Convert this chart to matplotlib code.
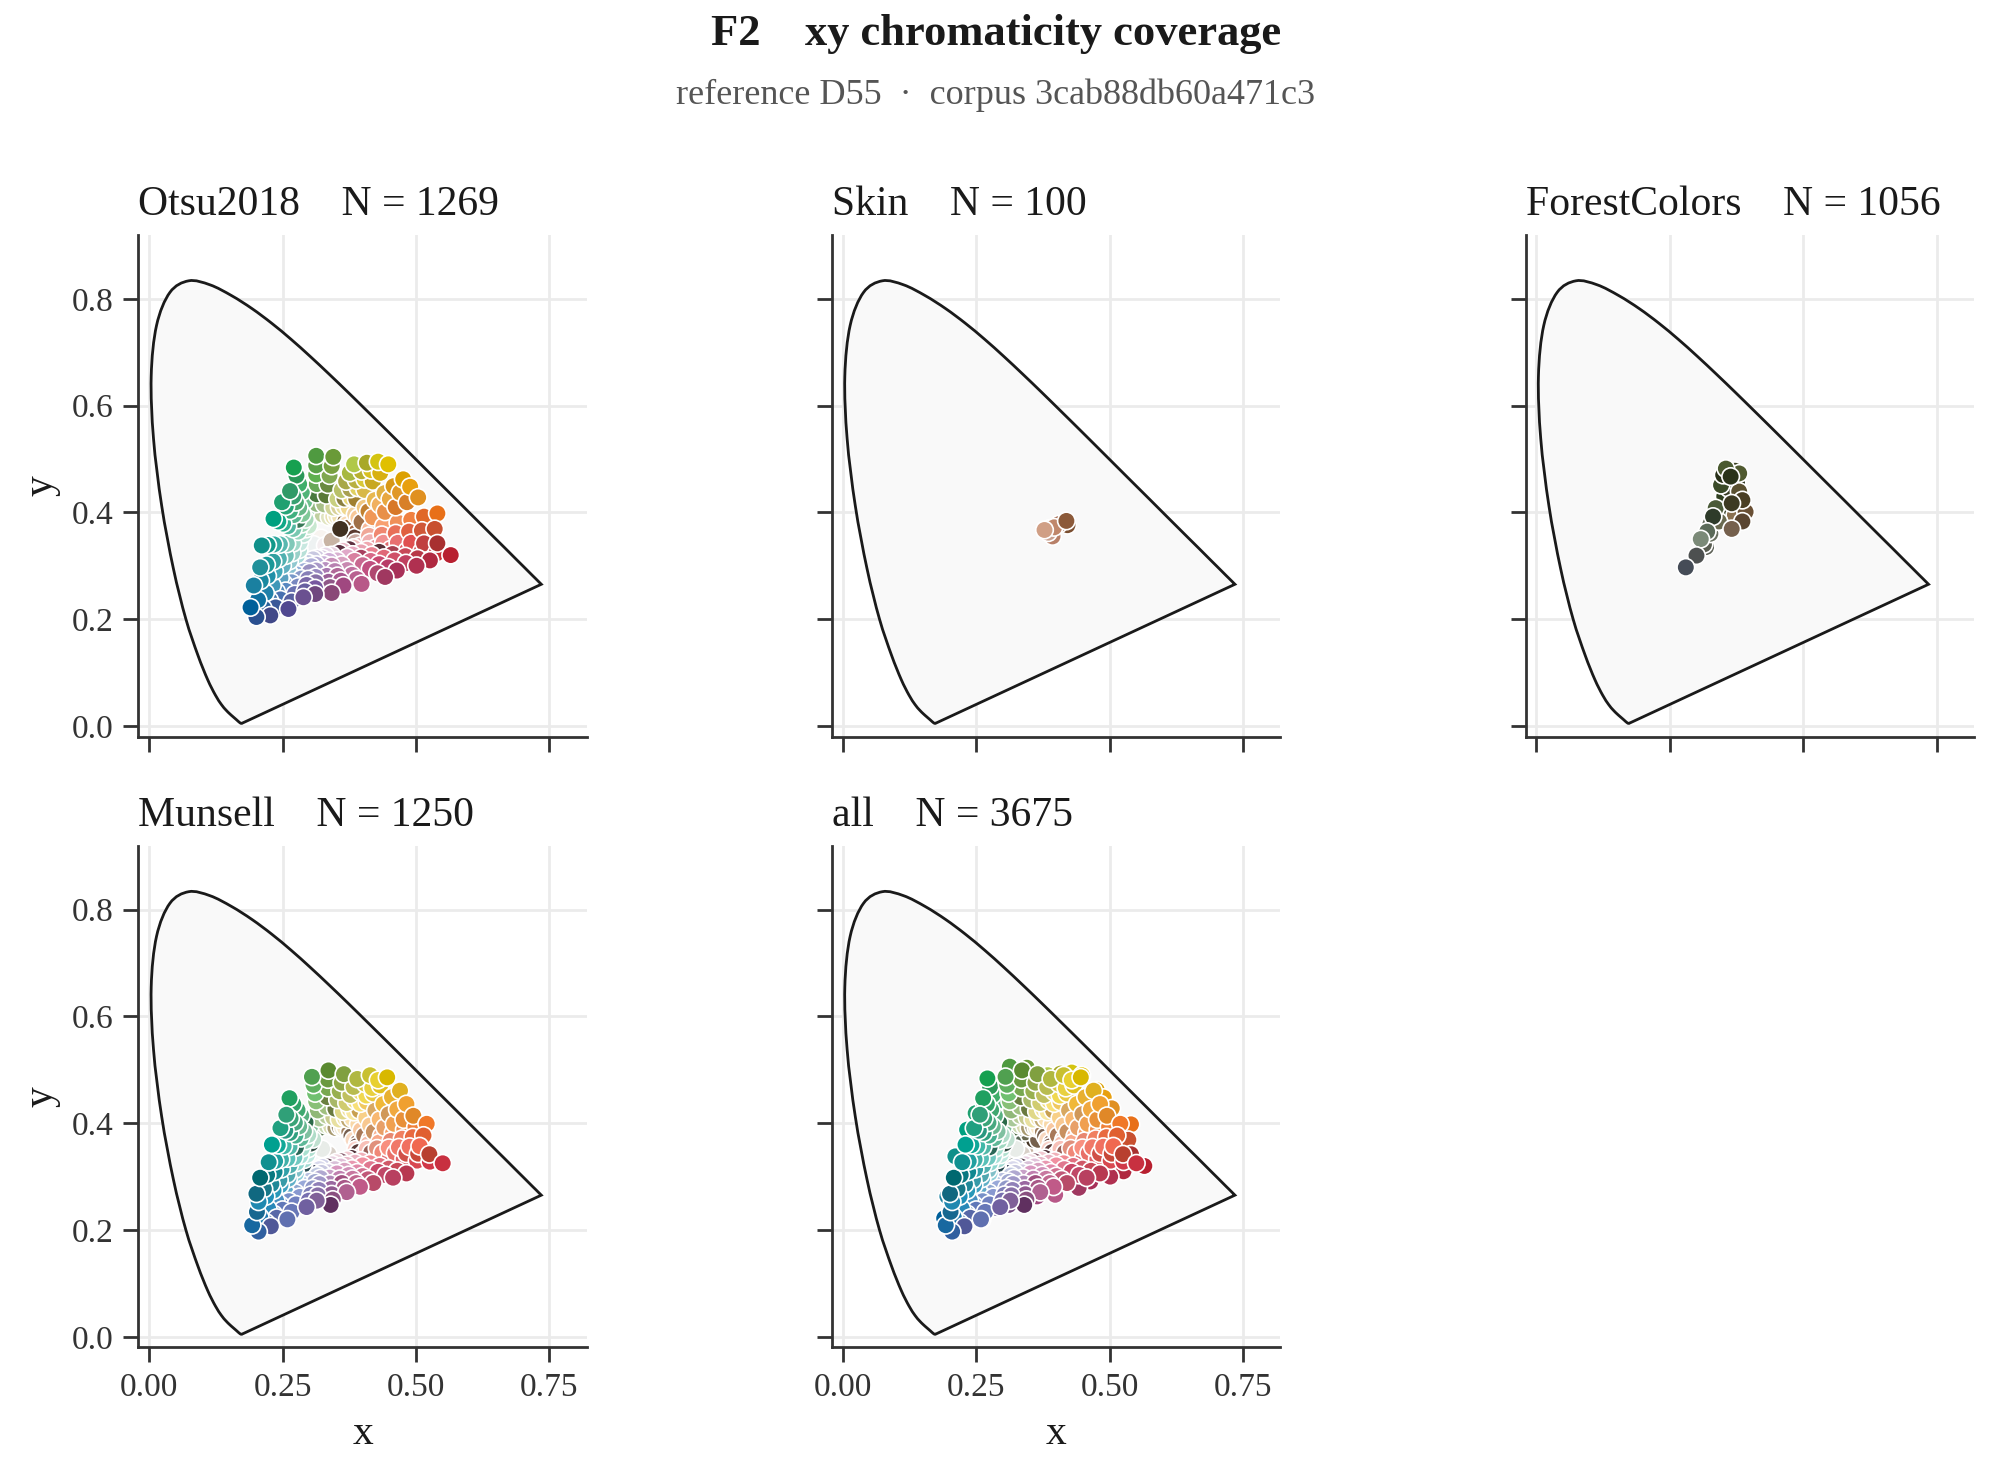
import matplotlib.pyplot as plt
from matplotlib.path import Path
from matplotlib.patches import PathPatch

plt.rcParams['font.family'] = 'serif'
plt.rcParams['font.serif'] = ['Liberation Serif', 'DejaVu Serif']

# CIE 1931 2-degree spectral locus, 380-700 nm in 5 nm steps
locus_x = [0.1741, 0.1740, 0.1738, 0.1736, 0.1733, 0.1730, 0.1726, 0.1721, 0.1714, 0.1703,
           0.1689, 0.1669, 0.1644, 0.1611, 0.1566, 0.1510, 0.1440, 0.1355, 0.1241, 0.1096,
           0.0913, 0.0687, 0.0454, 0.0235, 0.0082, 0.0039, 0.0139, 0.0389, 0.0743, 0.1142,
           0.1547, 0.1929, 0.2296, 0.2658, 0.3016, 0.3373, 0.3731, 0.4087, 0.4441, 0.4788,
           0.5125, 0.5448, 0.5752, 0.6029, 0.6270, 0.6482, 0.6658, 0.6801, 0.6915, 0.7006,
           0.7079, 0.7140, 0.7190, 0.7230, 0.7260, 0.7283, 0.7300, 0.7311, 0.7320, 0.7327,
           0.7334, 0.7340, 0.7344, 0.7346, 0.7347]
locus_y = [0.0050, 0.0050, 0.0049, 0.0049, 0.0048, 0.0048, 0.0048, 0.0048, 0.0051, 0.0058,
           0.0069, 0.0086, 0.0109, 0.0138, 0.0177, 0.0227, 0.0297, 0.0399, 0.0578, 0.0868,
           0.1327, 0.2007, 0.2950, 0.4127, 0.5384, 0.6548, 0.7502, 0.8120, 0.8338, 0.8262,
           0.8059, 0.7816, 0.7543, 0.7243, 0.6923, 0.6589, 0.6245, 0.5896, 0.5547, 0.5202,
           0.4866, 0.4544, 0.4242, 0.3965, 0.3725, 0.3514, 0.3340, 0.3197, 0.3083, 0.2993,
           0.2920, 0.2859, 0.2809, 0.2770, 0.2740, 0.2717, 0.2700, 0.2689, 0.2680, 0.2673,
           0.2666, 0.2660, 0.2656, 0.2654, 0.2653]

# (x, y, sRGB colour), inner points first
otsu_pts = [
    (0.315, 0.345, '#f2f2f0'), (0.322, 0.352, '#f8f4f0'), (0.308, 0.340, '#eef2f2'),
    (0.330, 0.338, '#f4eef0'), (0.342, 0.347, '#c8b4a4'),
    (0.301, 0.389, '#b0dcc0'), (0.314, 0.397, '#a8c898'), (0.325, 0.396, '#c0d0a0'),
    (0.337, 0.391, '#e0e4c0'), (0.345, 0.392, '#e8e0b0'), (0.351, 0.393, '#f0e8c0'),
    (0.358, 0.391, '#f0e0b0'), (0.367, 0.382, '#8a6a40'), (0.371, 0.378, '#f8d8b0'),
    (0.375, 0.372, '#7a5030'), (0.387, 0.362, '#a86a48'), (0.385, 0.353, '#5a3a30'),
    (0.387, 0.344, '#c8a8a0'), (0.395, 0.337, '#e8b0b0'), (0.383, 0.334, '#f0c0c0'),
    (0.375, 0.331, '#603040'), (0.363, 0.328, '#e8b8c8'), (0.356, 0.324, '#5a3040'),
    (0.342, 0.320, '#e8d0e0'), (0.331, 0.319, '#e8d8e8'), (0.324, 0.314, '#d8c8e0'),
    (0.314, 0.314, '#d0c8e0'), (0.307, 0.312, '#c8c8e0'), (0.298, 0.305, '#c0c8e0'),
    (0.287, 0.301, '#b8c8e0'), (0.279, 0.300, '#b0c8d8'), (0.275, 0.306, '#a8d0d8'),
    (0.277, 0.319, '#a8d8d8'), (0.281, 0.330, '#b8e0d8'), (0.282, 0.343, '#c8e8e0'),
    (0.289, 0.359, '#c0e4d8'), (0.294, 0.369, '#c0e0cc'), (0.299, 0.375, '#c8e8d0'),
    (0.358, 0.369, '#403020'), (0.389, 0.316, '#5a3038'),
    (0.296, 0.406, '#98d0ac'), (0.314, 0.416, '#90b880'), (0.328, 0.415, '#a8c088'),
    (0.345, 0.409, '#d0d498'), (0.356, 0.410, '#d8d098'), (0.365, 0.411, '#e8e0a0'),
    (0.374, 0.409, '#f0d890'), (0.386, 0.396, '#f0d0a0'), (0.392, 0.390, '#f8c898'),
    (0.398, 0.382, '#a07048'), (0.414, 0.368, '#f8b898'), (0.412, 0.356, '#f0a898'),
    (0.414, 0.344, '#f0b0b0'), (0.425, 0.334, '#e89098'), (0.408, 0.330, '#f0a8b0'),
    (0.397, 0.325, '#e8a0b0'), (0.381, 0.321, '#e8a8c0'), (0.371, 0.316, '#e0a8c8'),
    (0.352, 0.310, '#d8b0d0'), (0.337, 0.309, '#d0b0d8'), (0.327, 0.303, '#c8b0d8'),
    (0.313, 0.302, '#b8b0d8'), (0.304, 0.299, '#b0b0d8'), (0.291, 0.290, '#a0b0d8'),
    (0.276, 0.284, '#90b0d8'), (0.265, 0.283, '#88b8d0'), (0.260, 0.291, '#88c0d0'),
    (0.263, 0.309, '#90c8d0'), (0.268, 0.324, '#98d0c8'), (0.269, 0.342, '#a0d8c8'),
    (0.279, 0.364, '#98d8c0'), (0.286, 0.378, '#a0d8b8'), (0.293, 0.387, '#a8d8b8'),
    (0.291, 0.421, '#6cc08c'), (0.314, 0.434, '#4a7a40'), (0.332, 0.432, '#5a7a38'),
    (0.353, 0.425, '#c8d080'), (0.366, 0.426, '#8a8040'), (0.378, 0.428, '#e8d878'),
    (0.388, 0.425, '#a08030'), (0.404, 0.409, '#f0c880'), (0.411, 0.402, '#c08030'),
    (0.419, 0.391, '#f09858'), (0.439, 0.374, '#f8a070'), (0.436, 0.358, '#f08870'),
    (0.439, 0.343, '#f09090'), (0.453, 0.331, '#e06a70'), (0.431, 0.326, '#5a3038'),
    (0.417, 0.320, '#e88090'), (0.397, 0.315, '#a84060'), (0.385, 0.309, '#d880a0'),
    (0.361, 0.302, '#d8a0c0'), (0.342, 0.300, '#c890b8'), (0.330, 0.292, '#b890c0'),
    (0.313, 0.291, '#a898c8'), (0.301, 0.288, '#9a90c0'), (0.285, 0.276, '#8898c8'),
    (0.267, 0.269, '#7898c8'), (0.252, 0.267, '#6898c0'), (0.246, 0.277, '#5aa0c0'),
    (0.250, 0.300, '#60b0c0'), (0.256, 0.319, '#70c0b8'), (0.258, 0.341, '#80c8b8'),
    (0.270, 0.369, '#78c8b0'), (0.279, 0.386, '#3a7a58'), (0.287, 0.397, '#80c898'),
    (0.286, 0.438, '#50b478'), (0.314, 0.453, '#68a858'), (0.335, 0.452, '#6a8a40'),
    (0.361, 0.442, '#b8c068'), (0.377, 0.444, '#a8a050'), (0.391, 0.446, '#e0d060'),
    (0.404, 0.442, '#d8b848'), (0.423, 0.423, '#e8b850'), (0.432, 0.414, '#f0b060'),
    (0.442, 0.401, '#e89048'), (0.466, 0.381, '#f09058'), (0.462, 0.361, '#e87058'),
    (0.466, 0.343, '#e87070'), (0.483, 0.328, '#e05860'), (0.456, 0.322, '#a84050'),
    (0.440, 0.315, '#e06878'), (0.415, 0.309, '#d86888'), (0.400, 0.301, '#c86890'),
    (0.371, 0.292, '#c888b0'), (0.348, 0.290, '#b880b0'), (0.333, 0.281, '#a878b0'),
    (0.312, 0.279, '#9888c0'), (0.298, 0.275, '#8880b8'), (0.279, 0.261, '#7888c0'),
    (0.256, 0.253, '#5888c0'), (0.239, 0.251, '#5088b8'), (0.231, 0.263, '#4098b8'),
    (0.235, 0.290, '#40a8b8'), (0.243, 0.313, '#50b0b0'), (0.245, 0.340, '#58b8b0'),
    (0.260, 0.374, '#50b8a0'), (0.271, 0.395, '#58b890'), (0.281, 0.409, '#68b888'),
    (0.281, 0.453, '#3fae6a'), (0.313, 0.471, '#5fb050'), (0.338, 0.469, '#80a850'),
    (0.369, 0.458, '#a8a848'), (0.388, 0.460, '#b8b040'), (0.404, 0.462, '#d8c838'),
    (0.419, 0.458, '#c8a820'), (0.441, 0.436, '#e0b040'), (0.451, 0.425, '#e8a840'),
    (0.462, 0.410, '#d87828'), (0.491, 0.386, '#f08040'), (0.487, 0.364, '#e06040'),
    (0.491, 0.343, '#e05050'), (0.510, 0.326, '#d04048'), (0.480, 0.318, '#c84858'),
    (0.460, 0.310, '#d05068'), (0.431, 0.303, '#c84870'), (0.414, 0.294, '#c05080'),
    (0.380, 0.283, '#c070a0'), (0.353, 0.281, '#b06898'), (0.336, 0.270, '#9a6098'),
    (0.312, 0.269, '#8870a8'), (0.295, 0.264, '#7a68a8'), (0.273, 0.247, '#6870b0'),
    (0.246, 0.237, '#4870b0'), (0.226, 0.235, '#3a70a8'), (0.218, 0.249, '#2080a8'),
    (0.222, 0.281, '#2090a8'), (0.232, 0.308, '#30a0a0'), (0.234, 0.340, '#30a8a0'),
    (0.251, 0.379, '#30b090'), (0.264, 0.403, '#40b080'), (0.275, 0.419, '#48a870'),
    (0.276, 0.469, '#2a9858'), (0.313, 0.488, '#5aa048'), (0.342, 0.487, '#78a040'),
    (0.376, 0.474, '#a8b840'), (0.398, 0.477, '#b8b030'), (0.416, 0.479, '#d8c020'),
    (0.433, 0.474, '#d8b010'), (0.458, 0.449, '#d89818'), (0.470, 0.437, '#e09828'),
    (0.483, 0.419, '#d88028'), (0.515, 0.392, '#e06828'), (0.511, 0.366, '#d05838'),
    (0.515, 0.342, '#c04040'), (0.538, 0.323, '#c83038'), (0.503, 0.314, '#b83848'),
    (0.481, 0.305, '#c04060'), (0.448, 0.297, '#b83c68'), (0.428, 0.286, '#b04870'),
    (0.389, 0.275, '#b86090'), (0.359, 0.272, '#a85890'), (0.339, 0.260, '#905888'),
    (0.311, 0.258, '#7858a0'), (0.292, 0.252, '#6860a0'), (0.267, 0.233, '#5860a0'),
    (0.237, 0.222, '#3a5898'), (0.214, 0.220, '#2a609a'), (0.204, 0.236, '#10709f'),
    (0.209, 0.272, '#1a88a0'), (0.220, 0.302, '#1a9898'), (0.222, 0.339, '#10988a'),
    (0.242, 0.383, '#10a888'), (0.256, 0.411, '#28a478'), (0.270, 0.430, '#38a070'),
    (0.271, 0.484, '#16a050'), (0.313, 0.506, '#4f9a40'), (0.345, 0.504, '#6a9a38'),
    (0.384, 0.490, '#b0c848'), (0.408, 0.493, '#a8a828'), (0.429, 0.495, '#d4c410'),
    (0.448, 0.490, '#e0c000'), (0.476, 0.462, '#dca000'), (0.489, 0.448, '#e8a010'),
    (0.504, 0.428, '#e09020'), (0.540, 0.398, '#e87018'), (0.535, 0.369, '#c85030'),
    (0.540, 0.342, '#a83030'), (0.565, 0.320, '#b82030'), (0.526, 0.310, '#b02840'),
    (0.501, 0.300, '#b03050'), (0.464, 0.291, '#a83058'), (0.442, 0.279, '#a03860'),
    (0.398, 0.266, '#b85888'), (0.364, 0.263, '#a04880'), (0.342, 0.249, '#8a4878'),
    (0.311, 0.247, '#704880'), (0.289, 0.241, '#6a5090'), (0.261, 0.219, '#504890'),
    (0.227, 0.207, '#404888'), (0.201, 0.204, '#2a5090'), (0.190, 0.222, '#00609a'),
    (0.196, 0.263, '#1a80a0'), (0.208, 0.297, '#20909a'), (0.211, 0.338, '#10908a'),
    (0.233, 0.388, '#00a080'), (0.249, 0.419, '#20a070'), (0.264, 0.440, '#309a68'),
]

skin_pts = [
    (0.388, 0.370, '#e0b8a0'), (0.393, 0.355, '#b88068'), (0.385, 0.362, '#c8a090'),
    (0.421, 0.376, '#7a4e30'), (0.405, 0.378, '#a87058'), (0.396, 0.372, '#c0876b'),
    (0.378, 0.367, '#d09f85'), (0.419, 0.384, '#8c5a3a'),
]

forest_pts = [
    (0.318, 0.335, '#5e6258'), (0.314, 0.340, '#585c50'), (0.326, 0.360, '#687060'),
    (0.326, 0.378, '#606858'), (0.356, 0.385, '#505838'), (0.345, 0.400, '#3a4a30'),
    (0.358, 0.400, '#404830'), (0.376, 0.410, '#54482c'), (0.388, 0.395, '#705840'),
    (0.352, 0.430, '#304020'), (0.360, 0.445, '#383c24'), (0.376, 0.455, '#2e3420'),
    (0.372, 0.395, '#8a7050'), (0.342, 0.383, '#6a6a50'), (0.336, 0.408, '#4a5a38'),
    (0.346, 0.451, '#3a4a28'), (0.380, 0.439, '#5a5030'), (0.392, 0.401, '#6a5035'),
    (0.350, 0.470, '#283018'), (0.372, 0.478, '#3a4020'), (0.380, 0.473, '#505a30'),
    (0.355, 0.482, '#4a5a30'), (0.386, 0.423, '#4a3f25'), (0.366, 0.417, '#3d3a22'),
    (0.386, 0.383, '#5a4530'), (0.366, 0.369, '#75604d'), (0.364, 0.467, '#2a331a'),
    (0.331, 0.392, '#2e3b2a'), (0.320, 0.364, '#5a6a58'), (0.308, 0.350, '#7b8a78'),
    (0.300, 0.319, '#4d5050'), (0.280, 0.297, '#454c57'),
]

munsell_pts = [
    (0.330, 0.348, '#ececec'), (0.336, 0.342, '#d8d0c8'), (0.324, 0.352, '#e8ece8'),
    (0.309, 0.380, '#a0d0b0'), (0.322, 0.392, '#4a6a40'), (0.332, 0.396, '#c8d8b0'),
    (0.341, 0.394, '#d8dcb0'), (0.349, 0.391, '#a89a70'), (0.357, 0.393, '#8a7a58'),
    (0.362, 0.391, '#f0e8d0'), (0.367, 0.392, '#f8e8c8'), (0.375, 0.384, '#a08060'),
    (0.379, 0.376, '#786050'), (0.383, 0.369, '#f8d8c0'), (0.391, 0.364, '#8a6050'),
    (0.389, 0.357, '#6a4a40'), (0.387, 0.351, '#f8d0c8'), (0.392, 0.346, '#5a3a38'),
    (0.400, 0.341, '#f0b8b8'), (0.379, 0.335, '#503038'), (0.371, 0.332, '#f0c8d0'),
    (0.359, 0.329, '#8a6070'), (0.351, 0.327, '#f0d8e0'), (0.343, 0.323, '#e8d0e0'),
    (0.334, 0.319, '#503848'), (0.325, 0.318, '#d0d0e8'), (0.319, 0.314, '#d8d8ec'),
    (0.307, 0.307, '#404860'), (0.297, 0.303, '#c0d0e0'), (0.290, 0.300, '#304858'),
    (0.286, 0.304, '#a8d0e0'), (0.290, 0.318, '#b0d8e0'), (0.289, 0.322, '#2a4a50'),
    (0.291, 0.332, '#a0d8d0'), (0.296, 0.341, '#c0e8e0'), (0.298, 0.352, '#b0e0d0'),
    (0.303, 0.362, '#304a40'), (0.307, 0.370, '#c0e0d0'),
    (0.301, 0.392, '#80c098'), (0.319, 0.409, '#a8c898'), (0.333, 0.414, '#b8cc98'),
    (0.345, 0.411, '#c8cc90'), (0.356, 0.407, '#e8e0a0'), (0.367, 0.410, '#f0e4a8'),
    (0.374, 0.407, '#c0a870'), (0.381, 0.409, '#f8e0b0'), (0.392, 0.398, '#f8d8a8'),
    (0.397, 0.387, '#f8c8a0'), (0.403, 0.377, '#a87858'), (0.414, 0.370, '#f8c0a8'),
    (0.411, 0.361, '#f0b8a8'), (0.408, 0.352, '#f8c0b8'), (0.416, 0.345, '#986058'),
    (0.427, 0.338, '#f0a8a8'), (0.397, 0.330, '#f0b0b8'), (0.386, 0.326, '#e8b0c0'),
    (0.370, 0.322, '#e8b8c8'), (0.359, 0.319, '#e0c0d8'), (0.348, 0.314, '#d8c0d8'),
    (0.336, 0.308, '#d0c8e0'), (0.323, 0.307, '#c8c8e0'), (0.315, 0.302, '#c0c8e0'),
    (0.299, 0.292, '#b8c0e0'), (0.285, 0.286, '#a8c0e0'), (0.275, 0.282, '#a0c0d8'),
    (0.270, 0.287, '#98c8d8'), (0.275, 0.306, '#90d0d8'), (0.273, 0.313, '#80c0c8'),
    (0.276, 0.326, '#90d8d0'), (0.283, 0.339, '#a8e0d8'), (0.286, 0.353, '#a8e0d0'),
    (0.293, 0.367, '#a0d8c0'), (0.298, 0.378, '#b0dcc8'),
    (0.293, 0.402, '#2a6a48'), (0.316, 0.424, '#90b878'), (0.333, 0.431, '#a0c080'),
    (0.349, 0.427, '#6a7a40'), (0.363, 0.422, '#e0d888'), (0.376, 0.426, '#f0e098'),
    (0.384, 0.421, '#f8e8a0'), (0.394, 0.424, '#c8a050'), (0.407, 0.410, '#f8d088'),
    (0.414, 0.396, '#f8c890'), (0.421, 0.384, '#c89060'), (0.435, 0.376, '#f8b090'),
    (0.431, 0.364, '#f8a888'), (0.427, 0.353, '#e0907c'), (0.437, 0.345, '#f08878'),
    (0.451, 0.335, '#e07078'), (0.414, 0.325, '#f08890'), (0.400, 0.321, '#f090a0'),
    (0.380, 0.315, '#e898b0'), (0.366, 0.311, '#d8a0c0'), (0.352, 0.306, '#d898c0'),
    (0.338, 0.298, '#c8a0c8'), (0.321, 0.297, '#b0a8d0'), (0.311, 0.290, '#a0a8d0'),
    (0.291, 0.278, '#98a8d8'), (0.274, 0.270, '#90a8d0'), (0.261, 0.265, '#7aa0c8'),
    (0.255, 0.272, '#60a8c8'), (0.261, 0.296, '#60b0c8'), (0.259, 0.304, '#50a8b0'),
    (0.263, 0.321, '#50b0b0'), (0.272, 0.336, '#70c8c0'), (0.275, 0.355, '#2a6858'),
    (0.284, 0.372, '#60b898'), (0.290, 0.385, '#80c0a0'),
    (0.285, 0.414, '#58b080'), (0.313, 0.441, '#88c078'), (0.334, 0.449, '#6a8040'),
    (0.353, 0.444, '#a8b868'), (0.370, 0.438, '#d0cc70'), (0.386, 0.443, '#f0dc70'),
    (0.396, 0.437, '#f8e078'), (0.408, 0.440, '#f0c860'), (0.424, 0.424, '#d8a860'),
    (0.432, 0.407, '#f8b870'), (0.441, 0.392, '#e8a068'), (0.457, 0.382, '#f8a068'),
    (0.453, 0.367, '#e88870'), (0.449, 0.354, '#f89080'), (0.461, 0.344, '#e87068'),
    (0.477, 0.333, '#e06068'), (0.432, 0.320, '#e07080'), (0.415, 0.314, '#e07890'),
    (0.390, 0.308, '#e088a8'), (0.374, 0.303, '#d090b8'), (0.357, 0.296, '#c080b0'),
    (0.339, 0.287, '#b088b8'), (0.319, 0.286, '#a098c8'), (0.307, 0.278, '#9098c8'),
    (0.282, 0.262, '#8898d0'), (0.262, 0.254, '#7890c8'), (0.246, 0.247, '#6088c0'),
    (0.238, 0.255, '#4890c0'), (0.246, 0.284, '#40a0c0'), (0.244, 0.294, '#389aa8'),
    (0.248, 0.314, '#30a0a8'), (0.259, 0.334, '#58c0b8'), (0.263, 0.356, '#50b8a8'),
    (0.274, 0.377, '#48b090'), (0.281, 0.394, '#68b890'),
    (0.278, 0.425, '#40a870'), (0.311, 0.456, '#70c070'), (0.335, 0.466, '#78a850'),
    (0.357, 0.460, '#98b050'), (0.377, 0.453, '#c0c060'), (0.396, 0.459, '#e8d860'),
    (0.407, 0.452, '#f0d850'), (0.420, 0.456, '#e8c840'), (0.439, 0.436, '#f0b838'),
    (0.449, 0.417, '#d09858'), (0.459, 0.399, '#f0a050'), (0.478, 0.388, '#f09050'),
    (0.474, 0.371, '#f08060'), (0.468, 0.355, '#f07868'), (0.482, 0.343, '#d05048'),
    (0.502, 0.330, '#d84850'), (0.449, 0.315, '#d05868'), (0.429, 0.309, '#c84868'),
    (0.400, 0.301, '#d07090'), (0.381, 0.296, '#c878a0'), (0.361, 0.288, '#a05080'),
    (0.341, 0.277, '#9a68a0'), (0.318, 0.275, '#9080b8'), (0.303, 0.266, '#8080b8'),
    (0.275, 0.248, '#7080c0'), (0.250, 0.238, '#6078b8'), (0.233, 0.230, '#4878b0'),
    (0.223, 0.240, '#2888b8'), (0.233, 0.274, '#2898b8'), (0.229, 0.286, '#208898'),
    (0.235, 0.309, '#108890'), (0.247, 0.332, '#40b0a8'), (0.252, 0.357, '#40b8a8'),
    (0.264, 0.382, '#30a080'), (0.273, 0.401, '#48a880'),
    (0.270, 0.436, '#30a468'), (0.308, 0.472, '#60b060'), (0.335, 0.482, '#6a9a40'),
    (0.361, 0.476, '#90a848'), (0.383, 0.468, '#b8bc50'), (0.405, 0.474, '#d8c840'),
    (0.418, 0.466, '#e8d040'), (0.433, 0.471, '#e0c020'), (0.455, 0.449, '#e8b030'),
    (0.465, 0.426, '#f0a840'), (0.477, 0.407, '#e89038'), (0.499, 0.393, '#f08038'),
    (0.494, 0.374, '#e86a40'), (0.488, 0.356, '#f07060'), (0.504, 0.343, '#c84838'),
    (0.526, 0.328, '#d03848'), (0.465, 0.311, '#c84858'), (0.443, 0.303, '#c04868'),
    (0.410, 0.295, '#c05878'), (0.388, 0.288, '#c06890'), (0.366, 0.279, '#a85888'),
    (0.342, 0.267, '#905a90'), (0.316, 0.265, '#8870a8'), (0.299, 0.255, '#7870b0'),
    (0.267, 0.234, '#6878b8'), (0.239, 0.223, '#5868a8'), (0.219, 0.214, '#3a6aa8'),
    (0.208, 0.224, '#2078b0'), (0.219, 0.263, '#2090b8'), (0.215, 0.277, '#187888'),
    (0.221, 0.303, '#087880'), (0.236, 0.329, '#20a0a0'), (0.241, 0.359, '#10a898'),
    (0.255, 0.386, '#289880'), (0.265, 0.409, '#3aa478'),
    (0.263, 0.447, '#20a060'), (0.305, 0.487, '#50a050'), (0.336, 0.499, '#5a8a30'),
    (0.365, 0.492, '#80a040'), (0.390, 0.483, '#b0b840'), (0.414, 0.490, '#c8c030'),
    (0.429, 0.481, '#e8d030'), (0.446, 0.486, '#d8b800'), (0.470, 0.461, '#e0b020'),
    (0.482, 0.436, '#f0a030'), (0.495, 0.414, '#e08828'), (0.520, 0.399, '#f07828'),
    (0.514, 0.377, '#e06030'), (0.507, 0.357, '#f06850'), (0.525, 0.342, '#b84030'),
    (0.550, 0.325, '#c83040'), (0.482, 0.306, '#b83850'), (0.457, 0.298, '#b84060'),
    (0.420, 0.288, '#b84a68'), (0.395, 0.281, '#c05a88'), (0.370, 0.271, '#b06090'),
    (0.344, 0.257, '#8a5080'), (0.340, 0.247, '#603060'), (0.314, 0.255, '#806098'),
    (0.295, 0.243, '#7060a0'), (0.259, 0.220, '#6070b0'), (0.228, 0.207, '#505898'),
    (0.205, 0.197, '#3060a0'), (0.193, 0.209, '#1868a0'), (0.202, 0.234, '#186890'),
    (0.205, 0.253, '#2088b0'), (0.201, 0.268, '#106880'), (0.208, 0.298, '#006870'),
    (0.224, 0.327, '#109090'), (0.230, 0.360, '#00a090'), (0.246, 0.391, '#20a080'),
    (0.257, 0.416, '#30a078'),
]

panel_names = ['Otsu2018', 'Skin', 'ForestColors', 'Munsell', 'all']
panel_counts = [1269, 100, 1056, 1250, 3675]
panel_points = [otsu_pts, skin_pts, forest_pts, munsell_pts,
                otsu_pts + skin_pts + forest_pts + munsell_pts]


def locus_path(xs, ys):
    # smooth closed outline through the locus samples (Catmull-Rom as cubic Beziers)
    pts = list(zip(xs, ys))
    n = len(pts)
    verts, codes = [pts[0]], [Path.MOVETO]
    for i in range(n - 1):
        p0, p1 = pts[max(i - 1, 0)], pts[i]
        p2, p3 = pts[i + 1], pts[min(i + 2, n - 1)]
        c1 = (p1[0] + (p2[0] - p0[0]) / 6, p1[1] + (p2[1] - p0[1]) / 6)
        c2 = (p2[0] - (p3[0] - p1[0]) / 6, p2[1] - (p3[1] - p1[1]) / 6)
        verts += [c1, c2, p2]
        codes += [Path.CURVE4] * 3
    verts += [pts[0], pts[0]]
    codes += [Path.LINETO, Path.CLOSEPOLY]
    return Path(verts, codes)


fig, axes = plt.subplots(2, 3, figsize=(9.96, 7.36), dpi=200, sharex=True, sharey=True)
axes[1, 2].remove()
panel_axes = [axes[0, 0], axes[0, 1], axes[0, 2], axes[1, 0], axes[1, 1]]

lefts = [0.0695, 0.4177, 0.7659]
bottoms = [0.4996, 0.0846]
w, h = 0.2251, 0.3409

for i, ax in enumerate(panel_axes):
    r, c = divmod(i, 3)
    ax.set_position([lefts[c], bottoms[r], w, h])

    ax.add_patch(PathPatch(locus_path(locus_x, locus_y), facecolor='#f9f9f9',
                           edgecolor='#1a1a1a', lw=1.0, zorder=1))
    xs, ys, cs = zip(*panel_points[i])
    ax.scatter(xs, ys, c=list(cs), s=40, edgecolors='white', linewidths=0.6, zorder=3)

    ax.set_title(f'{panel_names[i]}    N = {panel_counts[i]}', loc='left',
                 fontsize=15, color='#1a1a1a', pad=7)
    ax.set_xlim(-0.02, 0.82)
    ax.set_ylim(-0.02, 0.92)
    ax.set_xticks([0, 0.25, 0.5, 0.75])
    ax.set_yticks([0, 0.2, 0.4, 0.6, 0.8])
    ax.grid(True, color='#ebebeb', lw=1.0)
    ax.set_axisbelow(True)
    for side in ['top', 'right']:
        ax.spines[side].set_visible(False)
    for side in ['left', 'bottom']:
        ax.spines[side].set_color('#333333')
        ax.spines[side].set_linewidth(1.0)
    ax.tick_params(direction='out', length=5.5, width=1.0, color='#333333',
                   labelcolor='#333333', labelsize=12)

axes[0, 0].set_ylabel('y', fontsize=15, color='#1a1a1a')
axes[1, 0].set_ylabel('y', fontsize=15, color='#1a1a1a')
axes[1, 0].set_xlabel('x', fontsize=15, color='#1a1a1a')
axes[1, 1].set_xlabel('x', fontsize=15, color='#1a1a1a')

fig.text(0.5, 0.977, 'F2    xy chromaticity coverage', ha='center', va='center',
         fontsize=16, fontweight='bold', color='#1a1a1a')
fig.text(0.5, 0.935, 'reference D55  \u00b7  corpus 3cab88db60a471c3', ha='center',
         va='center', fontsize=13, color='#555555')

fig.savefig('out.png', dpi=200)
